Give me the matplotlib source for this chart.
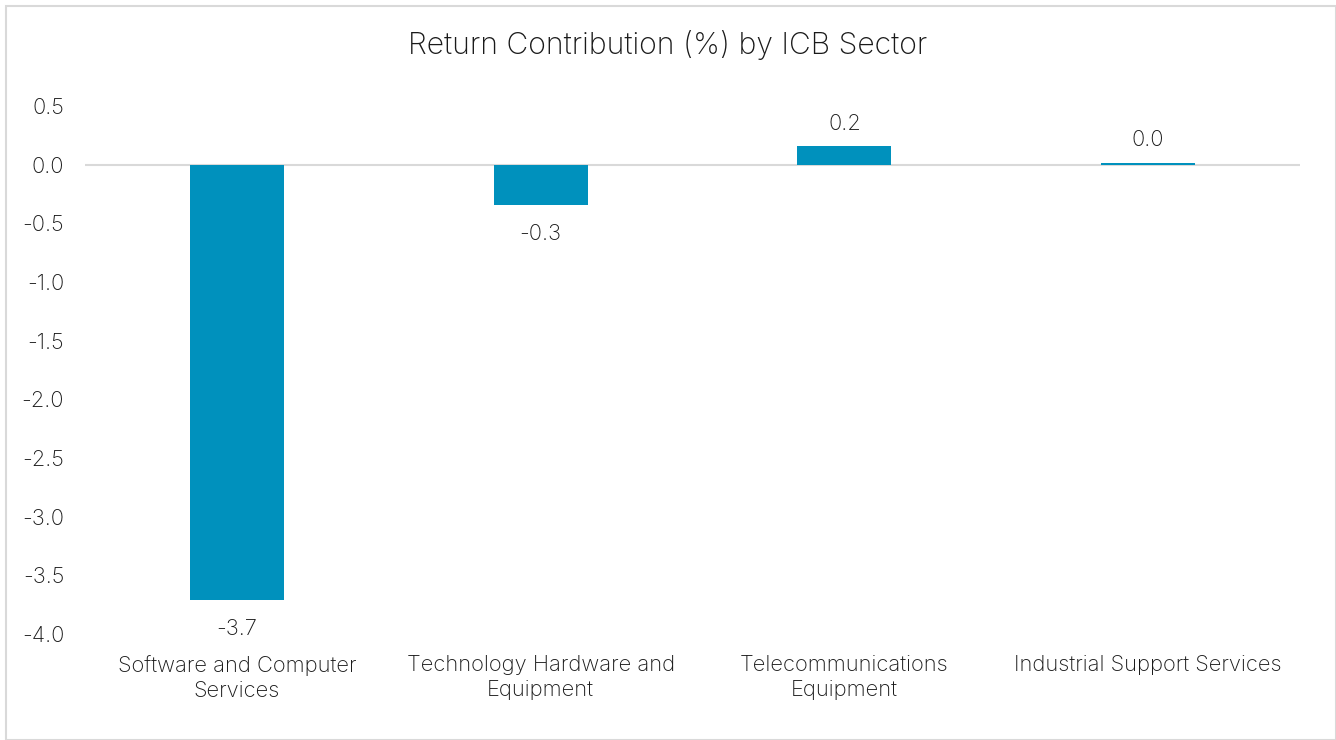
import matplotlib
matplotlib.use('Agg')
import matplotlib.pyplot as plt
from matplotlib.patches import Rectangle

# data
sektorit = ['Software and Computer\nServices', 'Technology Hardware and\nEquipment',
            'Telecommunications\nEquipment', 'Industrial Support Services']
arvot = [-3.71, -0.34, 0.155, 0.017]
tikit = [0.5, 0.0, -0.5, -1.0, -1.5, -2.0, -2.5, -3.0, -3.5, -4.0]

plt.rcParams['font.family'] = ['Inter', 'DejaVu Sans']
plt.rcParams['font.weight'] = 'light'
vari = '#0091bd'
teksti = '#1a1a1a'
koko = 15.8

fig = plt.figure(figsize=(13.36, 7.4), dpi=100)
ax = fig.add_axes((85/1336, 1-634/740, 1215/1336, 528/740))

x = range(len(arvot))
ax.bar(x, arvot, width=0.31, color=vari, zorder=2)
ax.axhline(0, color='#d9d9d9', lw=1.5, zorder=1)

for i, v in zip(x, arvot):
    if v < 0:
        ax.annotate('%.1f' % v, (i, v), xytext=(0, -14), textcoords='offset points',
                    ha='center', va='top', fontsize=koko, color=teksti)
    else:
        ax.annotate('%.1f' % v, (i, v), xytext=(0, 9), textcoords='offset points',
                    ha='center', va='bottom', fontsize=koko, color=teksti)

ax.set_xlim(-0.5, len(arvot)-0.5)
ax.set_ylim(-4.0, 0.5)
ax.set_yticks(tikit)
ax.set_yticklabels(['%.1f' % t for t in tikit])
ax.set_xticks(list(x))
ax.set_xticklabels(sektorit, linespacing=1.35)
ax.tick_params(axis='y', length=0, pad=15, labelsize=koko, labelcolor=teksti)
ax.tick_params(axis='x', length=0, pad=15, labelsize=koko, labelcolor=teksti)
for s in ax.spines.values():
    s.set_visible(False)

fig.text(0.5, 1-45/740, 'Return Contribution (%) by ICB Sector', ha='center', va='center',
         fontsize=21.7, color=teksti)

# reunus koko kuvan ympärille
fig.patches.append(Rectangle((6/1336, 0), 1-6/1336, 1-6/740, transform=fig.transFigure,
                             fill=False, edgecolor='#d9d9d9', lw=1.5))

fig.savefig('out.png', dpi=100)
